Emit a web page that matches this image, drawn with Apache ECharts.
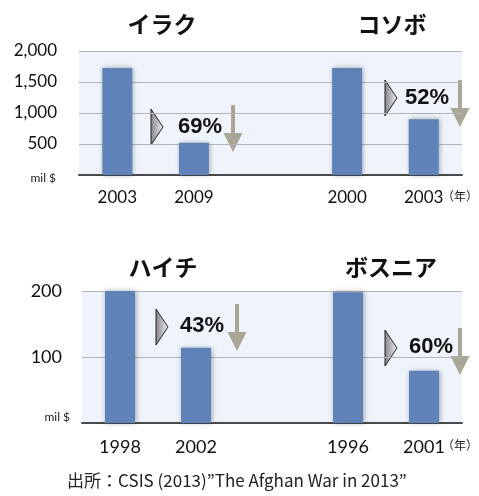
<!DOCTYPE html>
<html>
<head>
<meta charset="utf-8">
<script src="https://cdn.jsdelivr.net/npm/echarts@6/dist/echarts.min.js"></script>
<style>
  html, body { margin: 0; padding: 0; background: #fff; }
  #chart { width: 479px; height: 496px; }
</style>
</head>
<body>
<div id="chart"></div>
<script>
// top panel: Iraq & Kosovo (mil $)
const topYears = ['2003', '2009', '', '2000', '2003'];
const topValues = [1725, 520, null, 1725, 900];
const topTicks = [0, 500, 1000, 1500, 2000];
// bottom panel: Haiti & Bosnia (mil $)
const bottomYears = ['1998', '2002', '', '1996', '2001'];
const bottomValues = [201, 114, null, 198, 79];
const bottomTicks = [0, 100, 200];
const countries = ['イラク', 'コソボ', 'ハイチ', 'ボスニア'];
const drops = ['69%', '52%', '43%', '60%'];

const numFont = 'Lato, "Noto Sans", sans-serif';
const jpFont = '"Noto Sans CJK JP", sans-serif';
const barColor = '#5f83b9';

const chart = echarts.init(document.getElementById('chart'));

function yLabel(v) {
    return v === 0 ? '' : v.toLocaleString('en-US');
}

// triangle marker + percentage + down arrow
function note(tx, ty, label, lx, ly, ax, ay) {
    return [
        {
            type: 'polygon',
            shape: { points: [[tx, ty], [tx + 12, ty + 18], [tx, ty + 36]] },
            style: {
                fill: new echarts.graphic.LinearGradient(0, 0, 1, 0, [
                    { offset: 0, color: '#808086' },
                    { offset: 1, color: '#f4f4f6' }
                ]),
                stroke: '#222', lineWidth: 1
            }
        },
        {
            type: 'text', x: lx, y: ly,
            style: { text: label, font: 'bold 22px "Liberation Sans", Arial, sans-serif', fill: '#111', align: 'center', verticalAlign: 'middle' }
        },
        {
            type: 'rect',
            shape: { x: ax - 2, y: ay, width: 4, height: 29 },
            style: { fill: '#a9a697' }
        },
        {
            type: 'polygon',
            shape: { points: [[ax - 9.5, ay + 28], [ax + 9.5, ay + 28], [ax, ay + 47]] },
            style: { fill: '#a9a697' }
        }
    ];
}

const titleStyle = { fontFamily: jpFont, fontWeight: 'bold', fontSize: 23, color: '#111' };

const option = {
    animation: false,
    title: [
        { text: countries[0], left: 157, top: 8, textAlign: 'center', textStyle: titleStyle },
        { text: countries[1], left: 387, top: 8, textAlign: 'center', textStyle: titleStyle },
        { text: countries[2], left: 158, top: 251, textAlign: 'center', textStyle: titleStyle },
        { text: countries[3], left: 386, top: 251, textAlign: 'center', textStyle: titleStyle }
    ],
    grid: [
        { left: 79, right: 17, top: 51, height: 124, show: true, backgroundColor: '#eef3fc', borderWidth: 0 },
        { left: 82, right: 17, top: 291, height: 132, show: true, backgroundColor: '#eef3fc', borderWidth: 0 }
    ],
    xAxis: [
        {
            type: 'category', gridIndex: 0, data: topYears,
            axisTick: { show: false },
            axisLine: { lineStyle: { color: '#4a4a4a', width: 2 } },
            axisLabel: { color: '#111', fontFamily: numFont, fontSize: 17, margin: 14 }
        },
        {
            type: 'category', gridIndex: 1, data: bottomYears,
            axisTick: { show: false },
            axisLine: { lineStyle: { color: '#4a4a4a', width: 2 } },
            axisLabel: { color: '#111', fontFamily: numFont, fontSize: 18, margin: 15 }
        }
    ],
    yAxis: [
        {
            type: 'value', gridIndex: 0,
            min: topTicks[0], max: topTicks[topTicks.length - 1], interval: 500,
            axisLine: { show: false }, axisTick: { show: false },
            splitLine: { lineStyle: { color: '#b4b4b4', width: 1 } },
            axisLabel: { color: '#111', fontFamily: numFont, fontSize: 17, margin: 22, formatter: yLabel }
        },
        {
            type: 'value', gridIndex: 1,
            min: bottomTicks[0], max: bottomTicks[bottomTicks.length - 1], interval: 100,
            axisLine: { show: false }, axisTick: { show: false },
            splitLine: { lineStyle: { color: '#b4b4b4', width: 1 } },
            axisLabel: { color: '#111', fontFamily: numFont, fontSize: 18, margin: 20, formatter: yLabel }
        }
    ],
    series: [
        {
            type: 'bar', xAxisIndex: 0, yAxisIndex: 0, data: topValues,
            barWidth: 30,
            itemStyle: { color: barColor, shadowBlur: 5, shadowColor: 'rgba(0,0,0,0.35)', shadowOffsetX: 1, shadowOffsetY: 0 }
        },
        {
            type: 'bar', xAxisIndex: 1, yAxisIndex: 1, data: bottomValues,
            barWidth: 30,
            itemStyle: { color: barColor, shadowBlur: 5, shadowColor: 'rgba(0,0,0,0.35)', shadowOffsetX: 1, shadowOffsetY: 0 }
        }
    ],
    graphic: [
        { type: 'text', x: 56, y: 178, style: { text: 'mil $', font: '12px ' + numFont, fill: '#222', align: 'right', verticalAlign: 'middle' } },
        { type: 'text', x: 70, y: 417, style: { text: 'mil $', font: '12px ' + numFont, fill: '#222', align: 'right', verticalAlign: 'middle' } },
        { type: 'text', x: 460, y: 196, style: { text: '（年）', font: '12px ' + jpFont, fill: '#222', align: 'center', verticalAlign: 'middle' } },
        { type: 'text', x: 460, y: 445, style: { text: '（年）', font: '12px ' + jpFont, fill: '#222', align: 'center', verticalAlign: 'middle' } },
        { type: 'text', x: 237, y: 481, style: { text: '出所：CSIS (2013)”The Afghan War in 2013”', font: '17px ' + jpFont, fill: '#222', align: 'center', verticalAlign: 'middle' } },
        ...note(151, 109, drops[0], 200, 127, 233, 105),
        ...note(385, 80, drops[1], 427, 98, 460, 80),
        ...note(156, 309, drops[2], 202, 326, 237, 304),
        ...note(385, 330, drops[3], 431, 347, 460, 328)
    ]
};

chart.setOption(option);
</script>
</body>
</html>
